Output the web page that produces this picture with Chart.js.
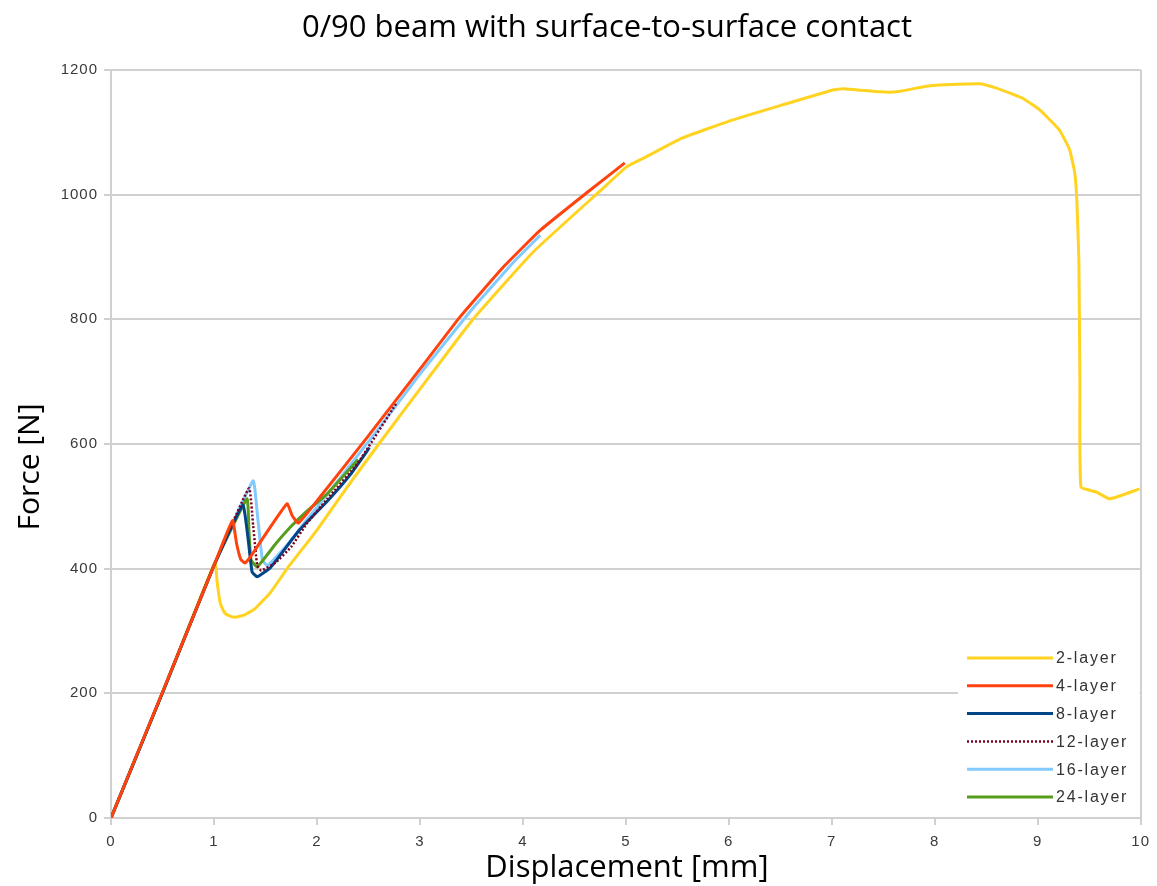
<!DOCTYPE html>
<html>
<head>
    <title>0/90 beam with surface-to-surface contact</title>
    <script src="https://cdn.jsdelivr.net/npm/chart.js@4"></script>
    <style>
        body { margin: 0; background: #fff; }
        #wrap { width: 1157px; height: 886px; }
    </style>
</head>
<body>
    <div id="wrap"><canvas id="forceChart" width="1157" height="886"></canvas></div>
    <script>
        // displacement [mm] / force [N] pairs
        const layer2X = [0, 0.5, 1.01, 1.03, 1.06, 1.1, 1.14, 1.2, 1.3, 1.4, 1.55, 1.71, 2.0, 2.32, 2.61, 3.0, 3.51, 4.1, 4.75, 5.01, 5.2, 5.55, 6.04, 6.52, 7.01, 7.11, 7.47, 7.63, 7.92, 8.05, 8.44, 8.6, 8.73, 8.85, 9.02, 9.21, 9.31, 9.36, 9.38, 9.4, 9.41, 9.42, 9.57, 9.7, 9.99];
        const layer2Y = [0, 201, 411, 380, 345, 330, 325, 322, 326, 336, 362, 400, 462, 537, 602, 688, 799, 908, 1006, 1045, 1061, 1091, 1120, 1144, 1168, 1170, 1165, 1165, 1174, 1176, 1178, 1171, 1163, 1155, 1136, 1104, 1072, 1035, 991, 895, 700, 531, 523, 512, 528];

        const layer4X = [0, 0.5, 1.0, 1.18, 1.22, 1.26, 1.3, 1.35, 1.5, 1.71, 1.76, 1.82, 2.03, 2.49, 3.0, 3.39, 3.8, 4.17, 4.62, 4.99];
        const layer4Y = [0, 202, 405, 477, 440, 415, 409, 418, 455, 504, 485, 473, 515, 611, 720, 804, 882, 943, 1003, 1051];

        const layer8X = [0, 0.5, 1.0, 1.28, 1.33, 1.37, 1.42, 1.55, 1.83, 2.1, 2.32, 2.51];
        const layer8Y = [0, 201, 405, 502, 450, 395, 387, 402, 462, 508, 550, 594];

        const layer12X = [0, 0.5, 1.0, 1.34, 1.38, 1.42, 1.46, 1.6, 1.75, 1.9, 2.1, 2.4, 2.77];
        const layer12Y = [0, 201, 405, 529, 470, 405, 397, 410, 435, 472, 512, 570, 665];

        const layer16X = [0, 0.5, 1.0, 1.38, 1.42, 1.47, 1.52, 1.7, 1.9, 2.2, 2.6, 3.0, 3.5, 3.9, 4.17];
        const layer16Y = [0, 201, 405, 541, 490, 414, 405, 436, 478, 540, 625, 712, 815, 890, 935];

        const layer24X = [0, 0.5, 1.0, 1.32, 1.34, 1.36, 1.42, 1.6, 1.75, 1.9, 2.1, 2.4];
        const layer24Y = [0, 201, 405, 512, 460, 414, 403, 440, 468, 492, 520, 575];

        const seriesLabels = ['2-layer', '4-layer', '8-layer', '12-layer', '16-layer', '24-layer'];
        const seriesColors = ['#FFD320', '#FF420E', '#004586', '#7E0021', '#83CAFF', '#579D1C'];
        const xTicks = [0, 1, 2, 3, 4, 5, 6, 7, 8, 9, 10];
        const yTicks = [0, 200, 400, 600, 800, 1000, 1200];

        function toPoints(xs, ys) {
            return xs.map((x, i) => ({ x: x, y: ys[i] }));
        }

        const allX = [layer2X, layer4X, layer8X, layer12X, layer16X, layer24X];
        const allY = [layer2Y, layer4Y, layer8Y, layer12Y, layer16Y, layer24Y];
        // higher order is painted first, so 4-layer ends up on top
        const drawOrder = [5, 0, 2, 1, 4, 3];

        const datasets = seriesLabels.map((label, i) => ({
            label: label,
            data: toPoints(allX[i], allY[i]),
            borderColor: seriesColors[i],
            backgroundColor: seriesColors[i],
            borderWidth: i === 3 ? 2.5 : 3,
            borderDash: i === 3 ? [2, 2] : [],
            showLine: true,
            pointRadius: 0,
            tension: 0.12,
            order: drawOrder[i]
        }));

        // the tick labels in the source are a bit spread out
        const spacing = {
            id: 'spacing',
            beforeDraw(chart) { chart.ctx.letterSpacing = '1px'; }
        };

        // legend box sits inside the plot, lower right
        const insideLegend = {
            id: 'insideLegend',
            afterDatasetsDraw(chart) {
                const ctx = chart.ctx;
                const area = chart.chartArea;
                ctx.save();
                ctx.fillStyle = '#fff';
                ctx.fillRect(958, 645, area.right - 959, 166);
                ctx.font = '16px "Liberation Sans", Arial, sans-serif';
                ctx.letterSpacing = '1.8px';
                ctx.textBaseline = 'middle';
                chart.data.datasets.forEach((ds, i) => {
                    const y = 658 + i * 27.8;
                    ctx.strokeStyle = ds.borderColor;
                    ctx.lineWidth = ds.borderWidth;
                    ctx.setLineDash(ds.borderDash);
                    ctx.beginPath();
                    ctx.moveTo(967, y);
                    ctx.lineTo(1053, y);
                    ctx.stroke();
                    ctx.setLineDash([]);
                    ctx.fillStyle = '#333';
                    ctx.fillText(ds.label, 1056, y + 1);
                });
                ctx.restore();
            }
        };

        // chart title and axis titles placed like the original
        const titles = {
            id: 'titles',
            afterDraw(chart) {
                const ctx = chart.ctx;
                ctx.save();
                ctx.letterSpacing = '0px';
                ctx.fillStyle = '#000';
                ctx.textAlign = 'center';
                ctx.textBaseline = 'middle';
                ctx.font = '31px "Open Sans", sans-serif';
                ctx.fillText('0/90 beam with surface-to-surface contact', 607, 28);
                ctx.font = '31px "Open Sans", sans-serif';
                ctx.fillText('Displacement [mm]', 627, 868);
                ctx.translate(30, 467);
                ctx.rotate(-Math.PI / 2);
                ctx.font = '30px "Open Sans", sans-serif';
                ctx.fillText('Force [N]', 0, 0);
                ctx.restore();
            }
        };

        const tickFont = { family: '"Liberation Sans", Arial, sans-serif', size: 15 };

        new Chart(document.getElementById('forceChart'), {
            type: 'scatter',
            data: { datasets: datasets },
            options: {
                responsive: false,
                animation: false,
                layout: { padding: { left: 0, right: 16, top: 70, bottom: 0 } },
                plugins: {
                    legend: { display: false },
                    tooltip: { enabled: false },
                    title: { display: false }
                },
                scales: {
                    x: {
                        type: 'linear',
                        min: 0,
                        max: 10,
                        afterBuildTicks: (axis) => { axis.ticks = xTicks.map(v => ({ value: v })); },
                        afterFit: (axis) => { axis.height = 68; },
                        border: { display: true, color: '#d0d0d0', width: 2 },
                        grid: {
                            drawOnChartArea: true,
                            color: (c) => c.tick && c.tick.value === 10 ? '#d0d0d0' : 'rgba(0,0,0,0)',
                            lineWidth: 2,
                            tickColor: '#d0d0d0',
                            tickLength: 7
                        },
                        ticks: { color: '#3a3a3a', font: tickFont, padding: 8, callback: (v) => String(v) }
                    },
                    y: {
                        type: 'linear',
                        min: 0,
                        max: 1200,
                        afterBuildTicks: (axis) => { axis.ticks = yTicks.map(v => ({ value: v })); },
                        afterFit: (axis) => { axis.width = 111; },
                        border: { display: true, color: '#d0d0d0', width: 2 },
                        grid: {
                            color: '#d0d0d0',
                            lineWidth: 2,
                            tickColor: '#d0d0d0',
                            tickLength: 7
                        },
                        ticks: { color: '#3a3a3a', font: tickFont, padding: 6, callback: (v) => String(v) }
                    }
                }
            },
            plugins: [spacing, insideLegend, titles]
        });
    </script>
</body>
</html>
